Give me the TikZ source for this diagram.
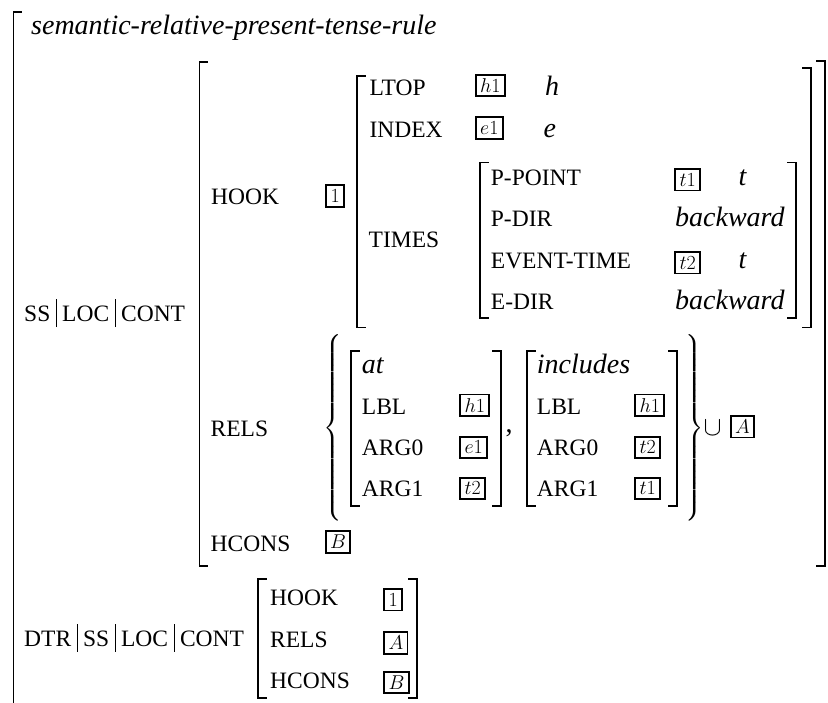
\RequirePackage{fix-cm}
\documentclass[tikz,border=0pt]{standalone}
\usepackage{exscale}
\usepackage[no-math]{fontspec}
\setmainfont{Liberation Serif}
\newfontfamily\featfont{Liberation Serif}
\newfontfamily\valfont{Liberation Serif Italic}
\newcommand{\pbar}{\hspace{5.5pt}\rule[-5.5pt]{0.9pt}{28pt}\hspace{5.5pt}}
\tikzset{
  feat/.style={font=\featfont\fontsize{23.5}{28}\selectfont, anchor=base west, inner sep=0pt},
  val/.style={font=\valfont\fontsize{28}{34}\selectfont, anchor=base west, inner sep=0pt},
  tag/.style={draw, line width=1.8pt, font=\fontsize{20}{24}\selectfont, inner xsep=4.3pt, inner ysep=0pt, minimum height=21.5pt, anchor=west},
  brk/.style={line width=1.7pt, line cap=rect},
}
\newcommand{\lbr}[3]{\draw[brk] (#1+8,#2) -- (#1,#2) -- (#1,#3) -- (#1+8,#3);}
\newcommand{\rbr}[3]{\draw[brk] (#1-8,#2) -- (#1,#2) -- (#1,#3) -- (#1-8,#3);}
\begin{document}
\begin{tikzpicture}[x=1pt,y=-1pt]
\useasboundingbox (0,0) rectangle (828,703);
\begin{scope}
\clip (0,0) rectangle (828,703);
% outer bracket
\draw[brk] (21.5,12) -- (13.5,12) -- (13.5,710);
% CONT value
\lbr{199.5}{62}{566}
\rbr{825}{61}{566}
% HOOK value
\lbr{357}{76}{327.5}
\rbr{811}{68}{327.5}
% TIMES value
\lbr{480}{162.5}{318}
\rbr{796}{162.5}{318}
% at
\lbr{350.7}{350.7}{505.7}
\rbr{501}{350.7}{505.7}
% includes
\lbr{526.7}{350.7}{505.7}
\rbr{676.7}{350.7}{505.7}
% DTR value
\lbr{258.3}{579.3}{698.3}
\rbr{416.7}{579.3}{698.3}
\end{scope}

\node[val] (title) at (31,35) {semantic-relative-present-tense-rule};
\node[feat] (sslc) at (24,321.7) {SS\pbar LOC\pbar CONT};
\node[feat] (dtrsslc) at (24,646) {DTR\pbar SS\pbar LOC\pbar CONT};

\node[feat] (hook) at (211,205) {HOOK};
\node[tag] (thook) at (325.3,196) {$1$};
\node[feat] (rels) at (210.5,436.7) {RELS};
\node[feat] (hcons) at (210.5,551) {HCONS};
\node[tag] (tB) at (325,542) {$B$};

\node[feat] (ltop) at (369.3,96) {LTOP};
\node[tag] (tltop) at (475,85.5) {$h1$};
\node[val] (vh) at (545,96) {h};
\node[feat] (index) at (369.3,137.3) {INDEX};
\node[tag] (tindex) at (475,128) {$e1$};
\node[val] (ve) at (543.3,137.3) {e};
\node[feat] (times) at (368.5,247.3) {TIMES};

\node[feat] (ppoint) at (490.7,186) {P-POINT};
\node[tag] (tppoint) at (674.3,179.7) {$t1$};
\node[val] (vt1) at (738.3,186) {t};
\node[feat] (pdir) at (490.7,226.7) {P-DIR};
\node[val] (vbw1) at (675,226.7) {backward};
\node[feat] (evtime) at (490.7,268.3) {EVENT-TIME};
\node[tag] (tevtime) at (674.3,262.7) {$t2$};
\node[val] (vt2) at (738.3,268.3) {t};
\node[feat] (edir) at (490.7,309.3) {E-DIR};
\node[val] (vbw2) at (675,309.3) {backward};

% RELS set
\node[inner sep=0pt, anchor=west, font=\fontsize{22}{26}\selectfont] (lbrace) at (323,428)
  {$\left\{\vrule height 86pt depth 86pt width 0pt\right.$};
\node[val] (at) at (361.7,373.3) {at};
\node[feat] (lbla) at (361.7,415) {LBL};
\node[tag] (tlbla) at (459.3,405.3) {$h1$};
\node[feat] (arg0a) at (361.7,455) {ARG0};
\node[tag] (targ0a) at (459.3,447.5) {$e1$};
\node[feat] (arg1a) at (361.7,496) {ARG1};
\node[tag] (targ1a) at (459.3,488.5) {$t2$};
\node[anchor=base west, inner sep=0pt, font=\featfont\fontsize{28}{34}\selectfont] (comma) at (505.5,433) {,};
\node[val] (incl) at (536.7,373.3) {includes};
\node[feat] (lbli) at (536.7,415) {LBL};
\node[tag] (tlbli) at (634.3,405.3) {$h1$};
\node[feat] (arg0i) at (536.7,455) {ARG0};
\node[tag] (targ0i) at (634.3,447.5) {$t2$};
\node[feat] (arg1i) at (536.7,496) {ARG1};
\node[tag] (targ1i) at (634.3,488.5) {$t1$};
\node[inner sep=0pt, anchor=west, font=\fontsize{22}{26}\selectfont] (rbrace) at (684.5,428)
  {$\left.\vrule height 86pt depth 86pt width 0pt\right\}$};
\node[inner sep=0pt, font=\fontsize{27}{30}\selectfont] (cup) at (712.5,428) {$\cup$};
\node[tag] (tA) at (730,426.7) {$A$};

% DTR value
\node[feat] (dhook) at (270,605) {HOOK};
\node[tag] (tdhook) at (383.3,599.7) {$1$};
\node[feat] (drels) at (270,647) {RELS};
\node[tag] (tdrels) at (383.3,643) {$A$};
\node[feat] (dhcons) at (270,688) {HCONS};
\node[tag] (tdhcons) at (383.3,682.5) {$B$};
\end{tikzpicture}
\end{document}
